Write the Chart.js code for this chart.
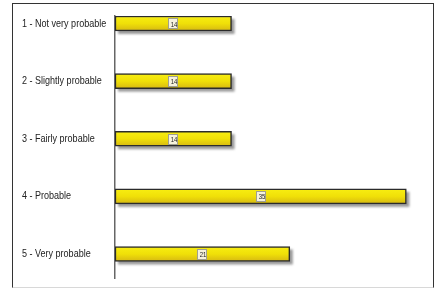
<!DOCTYPE html>
<html>
<head>
<meta charset="utf-8">
<script src="https://cdn.jsdelivr.net/npm/chart.js@4/dist/chart.umd.min.js"></script>
<style>
  html, body { margin: 0; padding: 0; background: #fff; }
  #wrap { position: relative; width: 436px; height: 289px; }
  #frame { position: absolute; left: 12px; top: 3px; width: 420px; height: 283px; border: 1.5px solid #333; border-bottom-color: #d8d8d8; box-sizing: content-box; }
  canvas { position: absolute; left: 0; top: 0; }
</style>
</head>
<body>
<div id="wrap">
  <div id="frame"></div>
  <canvas id="c" width="436" height="289"></canvas>
</div>
<script>
const categories = ["1 - Not very probable", "2 - Slightly probable", "3 - Fairly probable", "4 - Probable", "5 - Very probable"];
const values = [14, 14, 14, 35, 21];

const points = values.map((v, i) => ({ x: v, y: i + 1 }));

// Linear scale whose tick labels are drawn horizontally condensed (like Arial Narrow)
class NarrowLinearScale extends Chart.LinearScale {
  _computeLabelArea() { return undefined; }
  drawLabels(area) {
    const ctx = this.ctx;
    ctx.save();
    ctx.translate(this.left, 0);
    ctx.scale(0.82, 1);
    ctx.translate(-this.left, 0);
    super.drawLabels(area);
    ctx.restore();
  }
}
NarrowLinearScale.id = 'narrowLinear';
NarrowLinearScale.defaults = Chart.LinearScale.defaults;
Chart.register(NarrowLinearScale);

const shadowPlugin = {
  id: 'shadows',
  beforeDatasetsDraw(chart) {
    const ctx = chart.ctx;
    const meta = chart.getDatasetMeta(0);
    ctx.save();
    ctx.fillStyle = 'rgba(120,120,120,0.75)';
    ctx.filter = 'blur(0.8px)';
    meta.data.forEach(bar => {
      const p = bar.getProps(['x', 'y', 'base', 'height'], true);
      ctx.fillRect(p.base + 3, p.y - p.height / 2 + 3, p.x - p.base, p.height);
    });
    ctx.restore();
  },
  afterDatasetsDraw(chart) {
    const ctx = chart.ctx;
    const meta = chart.getDatasetMeta(0);
    ctx.save();
    ctx.font = '7.5px "Liberation Sans", sans-serif';
    ctx.textAlign = 'center';
    ctx.textBaseline = 'middle';
    meta.data.forEach((bar, i) => {
      const p = bar.getProps(['x', 'y', 'base'], true);
      const cx = Math.round((p.x + p.base) / 2);
      const txt = String(values[i]);
      const w = 9;
      const h = 10;
      const bx = cx - Math.round(w / 2);
      const by = Math.round(p.y - h / 2);
      ctx.fillStyle = '#f6f2dc';
      ctx.fillRect(bx, by, w, h);
      ctx.strokeStyle = '#a0a090';
      ctx.lineWidth = 1;
      ctx.strokeRect(bx + 0.5, by + 0.5, w, h);
      ctx.fillStyle = '#222';
      ctx.save();
      ctx.translate(cx + 1, p.y + 1);
      ctx.scale(0.8, 1);
      ctx.fillText(txt, 0, 0);
      ctx.restore();
    });
    ctx.restore();
  }
};

new Chart(document.getElementById('c'), {
  type: 'bar',
  data: {
    datasets: [{
      data: points,
      barThickness: 15,
      borderColor: '#2b2b2b',
      borderWidth: 1.5,
      borderSkipped: false,
      backgroundColor: (ctx) => {
        const chart = ctx.chart;
        const ys = chart.scales && chart.scales.y;
        const py = (ys && ctx.parsed) ? ys.getPixelForValue(ctx.parsed.y) : NaN;
        if (!isFinite(py)) return '#eedc0a';
        const g = chart.ctx.createLinearGradient(0, py - 7.5, 0, py + 7.5);
        g.addColorStop(0, '#f8ee12');
        g.addColorStop(0.5, '#f0e008');
        g.addColorStop(1, '#d6b812');
        return g;
      }
    }]
  },
  options: {
    indexAxis: 'y',
    responsive: false,
    animation: false,
    layout: { padding: { left: 22, top: 16, bottom: 11, right: 13 } },
    plugins: { legend: { display: false }, tooltip: { enabled: false } },
    scales: {
      x: { type: 'linear', min: 0, max: 37, display: false },
      y: {
        type: 'narrowLinear',
        offset: false,
        reverse: true,
        min: 0.87,
        max: 5.417,
        afterFit: (s) => { s.width = 93; },
        afterBuildTicks: (s) => { s.ticks = categories.map((_, i) => ({ value: i + 1 })); },
        grid: { display: false, offset: false },
        border: { display: true, color: '#666', width: 1.5 },
        ticks: {
          crossAlign: 'far',
          padding: 0,
          color: '#222',
          font: { family: '"Liberation Sans", Arial, sans-serif', size: 11 },
          callback: (v) => categories[Math.round(v) - 1] || ''
        }
      }
    }
  },
  plugins: [shadowPlugin]
});
</script>
</body>
</html>
